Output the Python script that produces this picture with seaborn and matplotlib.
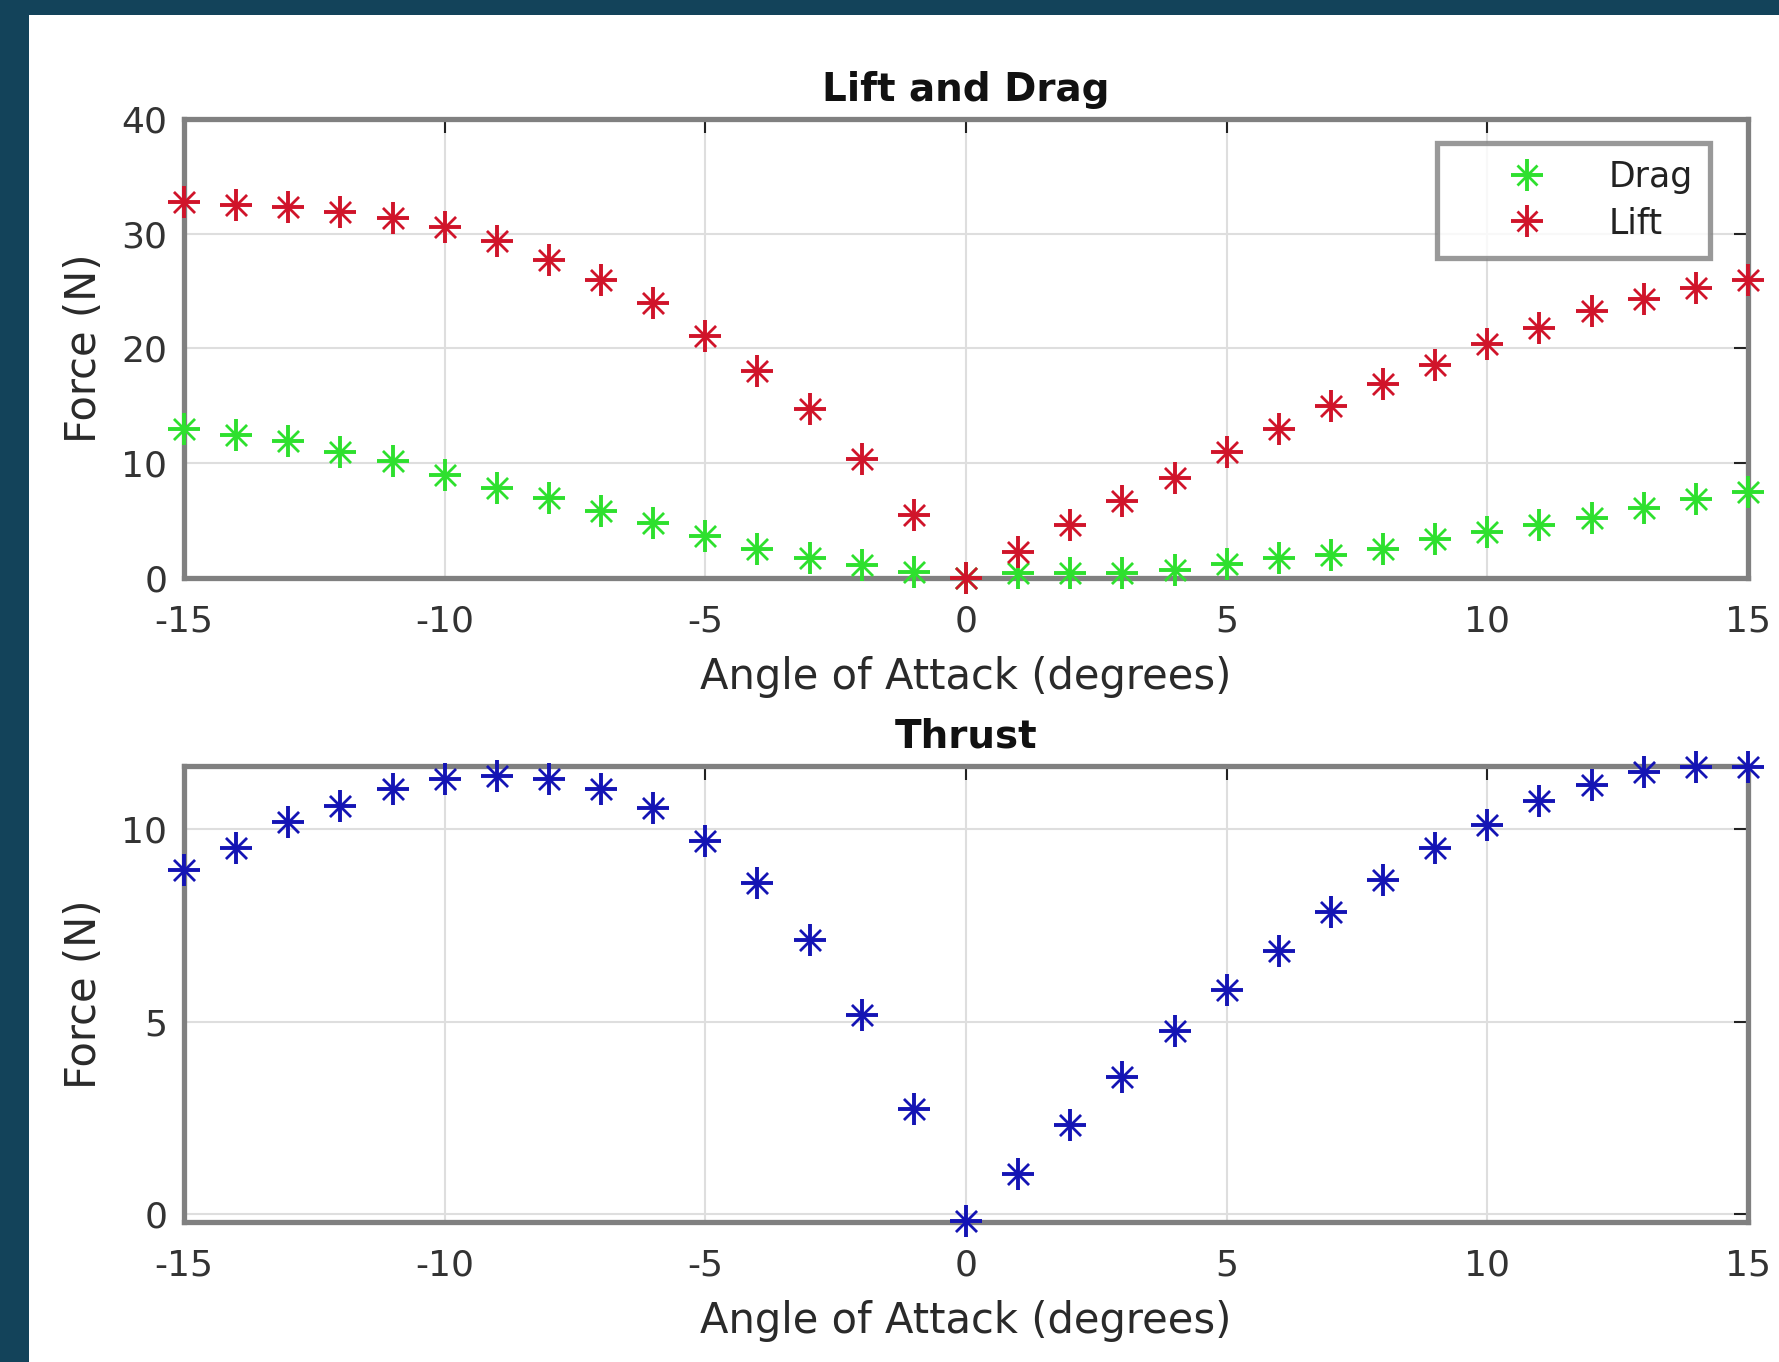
import matplotlib
matplotlib.use("Agg")
import matplotlib.pyplot as plt
import seaborn as sns
import pandas as pd
from matplotlib.lines import Line2D
from matplotlib.patches import Rectangle

angle = list(range(-15, 16))
lift = [32.8, 32.5, 32.3, 31.9, 31.4, 30.6, 29.4, 27.7, 26.0, 24.0, 21.1, 18.0, 14.7, 10.4, 5.5,
        0.0, 2.3, 4.6, 6.7, 8.7, 11.0, 13.0, 15.0, 16.9, 18.6, 20.4, 21.8, 23.3, 24.3, 25.3, 26.0]
drag = [13.0, 12.5, 11.9, 11.0, 10.2, 9.0, 7.8, 7.0, 5.8, 4.75, 3.7, 2.5, 1.7, 1.1, 0.5,
        0.0, 0.4, 0.4, 0.4, 0.7, 1.2, 1.7, 2.0, 2.5, 3.4, 4.0, 4.6, 5.2, 6.1, 6.9, 7.5]
thrust = [8.94, 9.53, 10.2, 10.6, 11.06, 11.32, 11.38, 11.32, 11.06, 10.56, 9.7, 8.62, 7.12, 5.18, 2.74,
          -0.18, 1.06, 2.32, 3.56, 4.76, 5.82, 6.85, 7.85, 8.7, 9.53, 10.12, 10.74, 11.15, 11.5, 11.62, 11.62]
xticks = [-15, -10, -5, 0, 5, 10, 15]
yticks_top = [0, 10, 20, 30, 40]
yticks_bot = [0, 5, 10]

df = pd.DataFrame({"angle": angle, "lift": lift, "drag": drag, "thrust": thrust})

sns.set_theme(style="white")
plt.rcParams['font.family'] = ['DejaVu Sans']

W, H = 1779, 1362
fig = plt.figure(figsize=(W / 100, H / 100), dpi=100)
fig.patch.set_facecolor("#13435a")
bg = Rectangle((29 / W, 0), 1 - 29 / W, 1 - 15 / H, transform=fig.transFigure,
               facecolor="white", edgecolor="none", zorder=-10)
fig.patches.append(bg)

GREEN = "#2ee02e"
RED = "#d0142a"
BLUE = "#1414b4"
SPINE = "#808080"
TXT = "#2a2a2a"


def asterisk(ax, y, color, plus_s=560, x_s=230):
    sns.scatterplot(data=df, x="angle", y=y, marker="+", s=plus_s, color=color, linewidth=2.8,
                    ax=ax, clip_on=False, zorder=3, legend=False)
    sns.scatterplot(data=df, x="angle", y=y, marker="x", s=x_s, color=color, linewidth=2.0,
                    ax=ax, clip_on=False, zorder=3, legend=False)


def style(ax, yticks, ylim):
    ax.set_xlim(-15, 15)
    ax.set_ylim(*ylim)
    ax.set_xticks(xticks)
    ax.set_yticks(yticks)
    ax.set_xticklabels([str(t) for t in xticks])
    ax.set_yticklabels([str(t) for t in yticks])
    ax.grid(True, color="#dedede", linewidth=1.5)
    ax.set_axisbelow(True)
    for s in ax.spines.values():
        s.set_color(SPINE)
        s.set_linewidth(3.8)
        s.set_visible(True)
    ax.tick_params(direction="in", length=10, width=1.5, colors="#222222", labelsize=26,
                   top=True, right=True, labelcolor="#333333")
    ax.tick_params(axis="x", pad=19)
    ax.tick_params(axis="y", pad=12)
    ax.set_xlabel("Angle of Attack (degrees)", fontsize=30, color=TXT, labelpad=13)
    ax.set_ylabel("Force (N)", fontsize=30, color=TXT, labelpad=12)


ax1 = fig.add_axes([184 / W, 1 - 578 / H, (1748 - 184) / W, (578 - 119) / H])
ax1.set_facecolor("white")
asterisk(ax1, "drag", GREEN)
asterisk(ax1, "lift", RED)
style(ax1, yticks_top, (0, 40))
ax1.set_title("Lift and Drag", fontsize=28, fontweight="bold", pad=13, color="#111111")

ax2 = fig.add_axes([184 / W, 1 - 1222 / H, (1748 - 184) / W, (1222 - 766) / H])
ax2.set_facecolor("white")
asterisk(ax2, "thrust", BLUE)
style(ax2, yticks_bot, (-0.2, 11.65))
ax2.set_title("Thrust", fontsize=28, fontweight="bold", pad=13, color="#111111")


def handle(color):
    return (Line2D([], [], linestyle="", marker="+", markersize=23, markeredgewidth=2.8, color=color),
            Line2D([], [], linestyle="", marker="x", markersize=15, markeredgewidth=2.0, color=color))


leg = ax1.legend([handle(GREEN), handle(RED)], ["Drag", "Lift"],
                 loc="upper right",
                 bbox_to_anchor=((1710 - 184) / (1748 - 184), 1 - (143 - 119) / (578 - 119)),
                 fontsize=25, frameon=True, fancybox=False, borderpad=0.5, handlelength=4.2,
                 handletextpad=0.25, labelspacing=0.35, borderaxespad=0)
leg.get_frame().set_edgecolor(SPINE)
leg.get_frame().set_linewidth(3.8)
for t in leg.get_texts():
    t.set_color("#222222")

fig.savefig("out.png", dpi=100, facecolor=fig.get_facecolor())
